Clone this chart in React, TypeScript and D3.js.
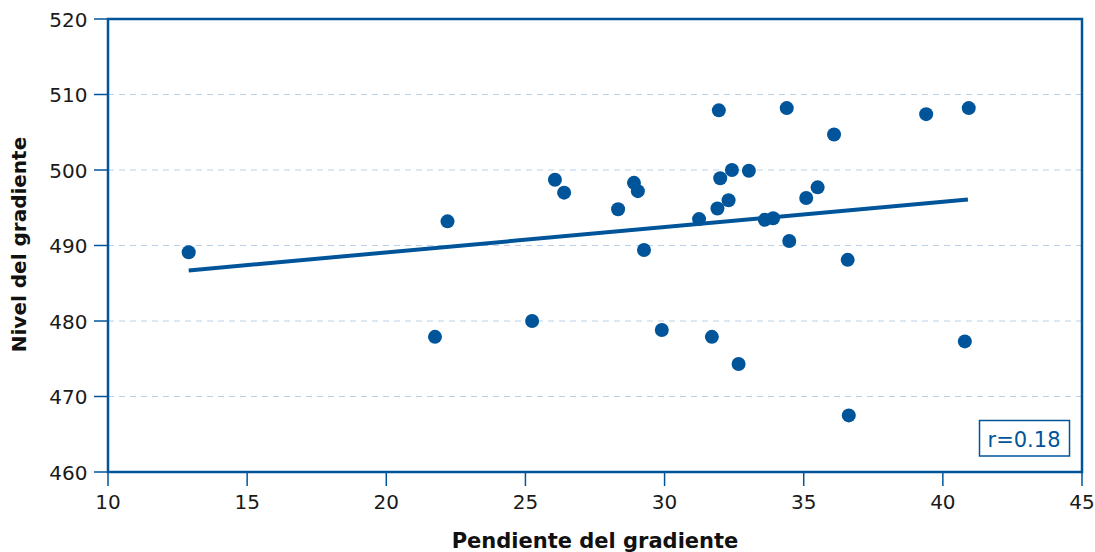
import React from "react";
import * as d3 from "d3";

const xValues = [12.9, 22.2, 21.75, 25.24, 26.06, 26.39, 28.33, 28.9, 29.04, 29.26, 29.9, 31.24, 31.7, 31.9, 31.95, 32.0, 32.3, 32.42, 32.66, 33.03, 33.6, 33.9, 34.39, 34.48, 35.09, 35.5, 36.09, 36.58, 36.62, 39.4, 40.93, 40.79];
const yValues = [489.1, 493.2, 477.9, 480.0, 498.7, 497.0, 494.8, 498.3, 497.2, 489.4, 478.8, 493.5, 477.9, 494.9, 507.9, 498.9, 496.0, 500.0, 474.3, 499.9, 493.4, 493.6, 508.2, 490.6, 496.3, 497.7, 504.7, 488.1, 467.5, 507.4, 508.2, 477.3];
const trendX = [12.9, 40.9];
const trendY = [486.7, 496.1];
const xTicks = [10, 15, 20, 25, 30, 35, 40, 45];
const yTicks = [460, 470, 480, 490, 500, 510, 520];
const gridTicks = [470, 480, 490, 500, 510];
const rLabel = "r=0.18";
const xTitle = "Pendiente del gradiente";
const yTitle = "Nivel del gradiente";

const W = 1095;
const H = 552;
const L = 108, R = 1082, T = 19, B = 472;
const BLUE = "#00559a";
const FONT = "'DejaVu Sans', Verdana, sans-serif";

export default function App() {
  const x = d3.scaleLinear().domain([10, 45]).range([L, R]);
  const y = d3.scaleLinear().domain([460, 520]).range([B, T]);
  const line = d3.line<number>().x((_, i) => x(trendX[i])).y((d) => y(d));

  return (
    <svg width={W} height={H} style={{ position: "absolute", left: 0, top: 0, background: "#fff" }}>
      {gridTicks.map((t) => (
        <line key={"g" + t} x1={L} x2={R} y1={y(t)} y2={y(t)} stroke="#b9d0e6" strokeWidth={1} strokeDasharray="6,5" />
      ))}
      {yTicks.map((t) => (
        <g key={"y" + t}>
          <line x1={L - 14} x2={L} y1={y(t)} y2={y(t)} stroke={BLUE} strokeWidth={1.5} />
          <text x={L - 20.5} y={y(t) + 7.5} textAnchor="end" fontFamily={FONT} fontSize={20} fill="#1a1a1a">{t}</text>
        </g>
      ))}
      {xTicks.map((t) => (
        <g key={"x" + t}>
          <line x1={x(t)} x2={x(t)} y1={B} y2={B + 14} stroke={BLUE} strokeWidth={1.5} />
          <text x={x(t)} y={B + 37} textAnchor="middle" fontFamily={FONT} fontSize={20} fill="#1a1a1a">{t}</text>
        </g>
      ))}
      <path d={line(trendY) || ""} fill="none" stroke={BLUE} strokeWidth={4} />
      {xValues.map((v, i) => (
        <circle key={"p" + i} cx={x(v)} cy={y(yValues[i])} r={7} fill={BLUE} />
      ))}
      <rect x={L} y={T} width={R - L} height={B - T} fill="none" stroke={BLUE} strokeWidth={2.5} />
      <rect x={979.5} y={420.5} width={90} height={35.5} fill="#fff" stroke={BLUE} strokeWidth={1.5} />
      <text x={1024} y={447} textAnchor="middle" fontFamily={FONT} fontSize={21} fill={BLUE}>{rLabel}</text>
      <text x={595} y={548} textAnchor="middle" fontFamily={FONT} fontSize={21} fontWeight="bold" fill="#111">{xTitle}</text>
      <text transform={`translate(25.5, ${(T + B) / 2 - 1}) rotate(-90)`} textAnchor="middle" fontFamily={FONT} fontSize={20} fontWeight="bold" fill="#111">{yTitle}</text>
    </svg>
  );
}
